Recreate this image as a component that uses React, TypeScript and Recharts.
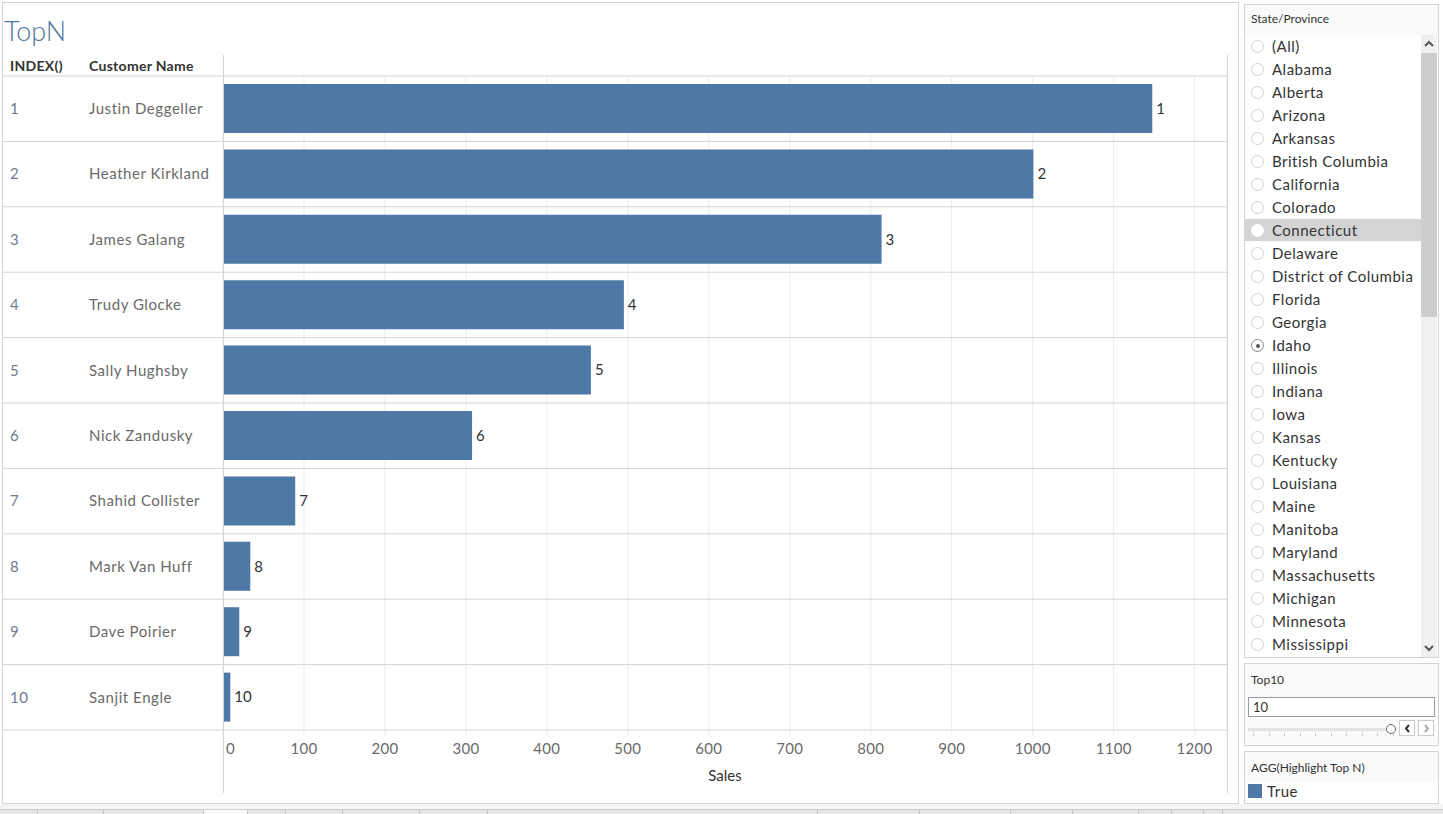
import { BarChart, Bar, XAxis, YAxis, CartesianGrid, LabelList } from 'recharts';

const customers = [
  'Justin Deggeller',
  'Heather Kirkland',
  'James Galang',
  'Trudy Glocke',
  'Sally Hughsby',
  'Nick Zandusky',
  'Shahid Collister',
  'Mark Van Huff',
  'Dave Poirier',
  'Sanjit Engle',
];
const sales = [1147.7, 1000.9, 813.4, 495.1, 454.4, 307.6, 89.2, 33.7, 20.1, 9.0];
const salesTicks = [0, 100, 200, 300, 400, 500, 600, 700, 800, 900, 1000, 1100, 1200];

const states = [
  '(All)', 'Alabama', 'Alberta', 'Arizona', 'Arkansas', 'British Columbia', 'California',
  'Colorado', 'Connecticut', 'Delaware', 'District of Columbia', 'Florida', 'Georgia', 'Idaho',
  'Illinois', 'Indiana', 'Iowa', 'Kansas', 'Kentucky', 'Louisiana', 'Maine', 'Manitoba',
  'Maryland', 'Massachusetts', 'Michigan', 'Minnesota', 'Mississippi',
];
const hoveredState = 'Connecticut';
const selectedState = 'Idaho';

const data = customers.map((name, i) => ({ name, rank: i + 1, sales: sales[i] }));

const FONT = 'Lato, "Noto Sans", sans-serif';
const BLUE = '#4e79a7';
const LINE = '#d4d4d4';
const CHART_W = 1225;
const TOP = 21;
const PLOT_H = 654;
const ROW_H = PLOT_H / data.length;

const NameTick = (props: any) => {
  const { y, payload, index } = props;
  return (
    <g>
      {index === 0 && <line x1={0} x2={CHART_W} y1={y - ROW_H / 2} y2={y - ROW_H / 2} stroke={LINE} />}
      <line x1={0} x2={CHART_W} y1={y + ROW_H / 2} y2={y + ROW_H / 2} stroke={LINE} />
      <text x={8} y={y} dy="0.35em" fontSize={15} fill="#6e7c8f" fontFamily={FONT} letterSpacing={0.5}>
        {index + 1}
      </text>
      <text x={87} y={y} dy="0.35em" fontSize={15} fill="#6a6a6a" fontFamily={FONT} letterSpacing={0.55}>
        {payload.value}
      </text>
    </g>
  );
};

const SalesTick = (props: any) => {
  const { x, y, payload } = props;
  const first = payload.value === 0;
  return (
    <text
      x={first ? x + 3 : x}
      y={y + 6}
      dy="0.71em"
      textAnchor={first ? 'start' : 'middle'}
      fontSize={15}
      fill="#6a6a6a"
      fontFamily={FONT}
      letterSpacing={0.3}
    >
      {payload.value}
    </text>
  );
};

const box = (left: number, top: number, width: number, height: number): React.CSSProperties => ({
  position: 'absolute',
  left,
  top,
  width,
  height,
  border: `1px solid ${LINE}`,
  boxSizing: 'border-box',
  background: '#fff',
});

const Chevron = ({ up, left, top }: { up: boolean; left: number; top: number }) => (
  <svg style={{ position: 'absolute', left, top }} width={10} height={7}>
    <polyline
      points={up ? '1,6 5,2 9,6' : '1,1 5,5 9,1'}
      fill="none"
      stroke="#555"
      strokeWidth={2}
    />
  </svg>
);

export default function App() {
  return (
    <div
      style={{
        position: 'absolute',
        left: 0,
        top: 0,
        width: 1443,
        height: 814,
        background: '#fff',
        fontFamily: FONT,
        overflow: 'hidden',
      }}
    >
      {/* main sheet */}
      <div style={box(2, 2, 1237, 802)} />
      <div style={{ position: 'absolute', left: 4, top: 14, fontSize: 27, color: '#4f74a0', fontWeight: 300 }}>
        TopN
      </div>
      <div style={{ position: 'absolute', left: 10, top: 57, fontSize: 14, color: '#333', fontWeight: 700, letterSpacing: 0.3 }}>
        INDEX()
      </div>
      <div style={{ position: 'absolute', left: 89, top: 57, fontSize: 14, color: '#333', fontWeight: 700, letterSpacing: 0.3 }}>
        Customer Name
      </div>

      <div style={{ position: 'absolute', left: 2, top: 55 }}>
        <BarChart
          width={CHART_W}
          height={738}
          data={data}
          layout="vertical"
          margin={{ top: TOP, right: 0, bottom: 0, left: 0 }}
        >
          <CartesianGrid horizontal={false} stroke="#ececec" />
          <XAxis
            type="number"
            dataKey="sales"
            domain={[0, 1240]}
            ticks={salesTicks}
            height={63}
            axisLine={false}
            tickLine={{ stroke: '#ececec' }}
            tickSize={5}
            tick={<SalesTick />}
            label={{ value: 'Sales', position: 'insideBottom', offset: 12, fontSize: 15, fill: '#333', fontFamily: FONT }}
          />
          <YAxis
            type="category"
            dataKey="name"
            width={221}
            axisLine={false}
            tickLine={false}
            tick={<NameTick />}
            interval={0}
          />
          <Bar dataKey="sales" fill={BLUE} barSize={49} isAnimationActive={false}>
            <LabelList dataKey="rank" position="right" offset={4} fontSize={15} fill="#333" fontFamily={FONT} />
          </Bar>
        </BarChart>
      </div>
      <div style={{ position: 'absolute', left: 223, top: 55, width: 1, height: 738, background: LINE }} />
      <div style={{ position: 'absolute', left: 1227, top: 55, width: 1, height: 738, background: LINE }} />

      {/* State/Province filter */}
      <div style={{ ...box(1244, 4, 195, 654), background: '#fafafa' }}>
        <div style={{ position: 'absolute', left: 6, top: 6, fontSize: 12, color: '#333' }}>State/Province</div>
        <div style={{ position: 'absolute', left: 0, top: 30, width: 193, height: 622, background: '#fff' }} />
        {states.map((s, i) => {
          const top = 30 + i * 23;
          const hovered = s === hoveredState;
          const selected = s === selectedState;
          return (
            <div
              key={s}
              style={{
                position: 'absolute',
                left: 0,
                top,
                width: 176,
                height: 22,
                background: hovered ? '#d4d4d4' : 'transparent',
              }}
            >
              <div
                style={{
                  position: 'absolute',
                  left: 6,
                  top: 5,
                  width: 13,
                  height: 13,
                  borderRadius: '50%',
                  border: `1px solid ${hovered ? '#fff' : selected ? '#888' : '#d0d0d0'}`,
                  background: '#fff',
                  boxSizing: 'border-box',
                }}
              >
                {selected && (
                  <div
                    style={{
                      position: 'absolute',
                      left: 3.5,
                      top: 3.5,
                      width: 4,
                      height: 4,
                      borderRadius: '50%',
                      background: '#555',
                    }}
                  />
                )}
              </div>
              <div
                style={{
                  position: 'absolute',
                  left: 27,
                  top: 2,
                  fontSize: 15,
                  color: '#333',
                  whiteSpace: 'nowrap',
                  letterSpacing: 0.5,
                }}
              >
                {s}
              </div>
            </div>
          );
        })}
        {/* scrollbar */}
        <div style={{ position: 'absolute', left: 176, top: 30, width: 16, height: 622, background: '#f0f0f0' }} />
        <div style={{ position: 'absolute', left: 176, top: 48, width: 16, height: 264, background: '#cdcdcd' }} />
        <Chevron up left={179} top={35} />
        <Chevron up={false} left={179} top={640} />
      </div>

      {/* Top10 parameter */}
      <div style={{ ...box(1244, 663, 195, 83), background: '#fafafa' }}>
        <div style={{ position: 'absolute', left: 6, top: 8, fontSize: 12, color: '#333' }}>Top10</div>
        <div
          style={{
            position: 'absolute',
            left: 3,
            top: 33,
            width: 187,
            height: 20,
            border: '1px solid #9a9a9a',
            boxSizing: 'border-box',
            background: '#fff',
            fontSize: 13,
            color: '#333',
            paddingLeft: 4,
            lineHeight: '18px',
          }}
        >
          10
        </div>
        <div style={{ position: 'absolute', left: 3, top: 64, width: 142, height: 3, background: '#e4e4e4' }} />
        {[0, 1, 2, 3, 4, 5, 6, 7, 8, 9].map((t) => (
          <div key={t} style={{ position: 'absolute', left: 8 + t * 15.5, top: 69, width: 1, height: 3, background: '#c8c8c8' }} />
        ))}
        <div
          style={{
            position: 'absolute',
            left: 141,
            top: 60,
            width: 10,
            height: 10,
            borderRadius: '50%',
            border: '1px solid #666',
            background: '#fff',
            boxSizing: 'border-box',
          }}
        />
        <div
          style={{
            position: 'absolute',
            left: 154,
            top: 56,
            width: 16,
            height: 16,
            border: '1px solid #ccc',
            boxSizing: 'border-box',
            background: '#fff',
          }}
        >
          <svg style={{ position: 'absolute', left: 4, top: 3 }} width={7} height={9}>
            <polyline points="5,1 2,4.5 5,8" fill="none" stroke="#333" strokeWidth={2} />
          </svg>
        </div>
        <div
          style={{
            position: 'absolute',
            left: 173,
            top: 56,
            width: 16,
            height: 16,
            border: '1px solid #ccc',
            boxSizing: 'border-box',
            background: '#fff',
          }}
        >
          <svg style={{ position: 'absolute', left: 4, top: 3 }} width={7} height={9}>
            <polyline points="2,1 5,4.5 2,8" fill="none" stroke="#aaa" strokeWidth={2} />
          </svg>
        </div>
      </div>

      {/* colour legend */}
      <div style={{ ...box(1244, 751, 195, 53), background: '#fafafa' }}>
        <div style={{ position: 'absolute', left: 6, top: 8, fontSize: 12, color: '#333' }}>AGG(Highlight Top N)</div>
        <div style={{ position: 'absolute', left: 0, top: 30, width: 193, height: 21, background: '#fff' }} />
        <div style={{ position: 'absolute', left: 3, top: 32, width: 14, height: 14, background: BLUE }} />
        <div style={{ position: 'absolute', left: 22, top: 30, fontSize: 15, color: '#333', letterSpacing: 0.5 }}>True</div>
      </div>

      {/* bottom tab strip */}
      <div style={{ position: 'absolute', left: 0, top: 804, width: 1443, height: 6, background: '#f4f4f4' }} />
      <div
        style={{
          position: 'absolute',
          left: 0,
          top: 809,
          width: 1443,
          height: 5,
          background: '#e6e6e6',
          borderTop: '1px solid #d0d0d0',
        }}
      />
      {[37, 103, 203, 247, 285, 342, 419, 487, 817, 919, 1010, 1072, 1138, 1171, 1203, 1222].map((x) => (
        <div key={x} style={{ position: 'absolute', left: x, top: 810, width: 1, height: 4, background: '#c8c8c8' }} />
      ))}
      <div style={{ position: 'absolute', left: 204, top: 810, width: 43, height: 4, background: '#fafafa' }} />
    </div>
  );
}
